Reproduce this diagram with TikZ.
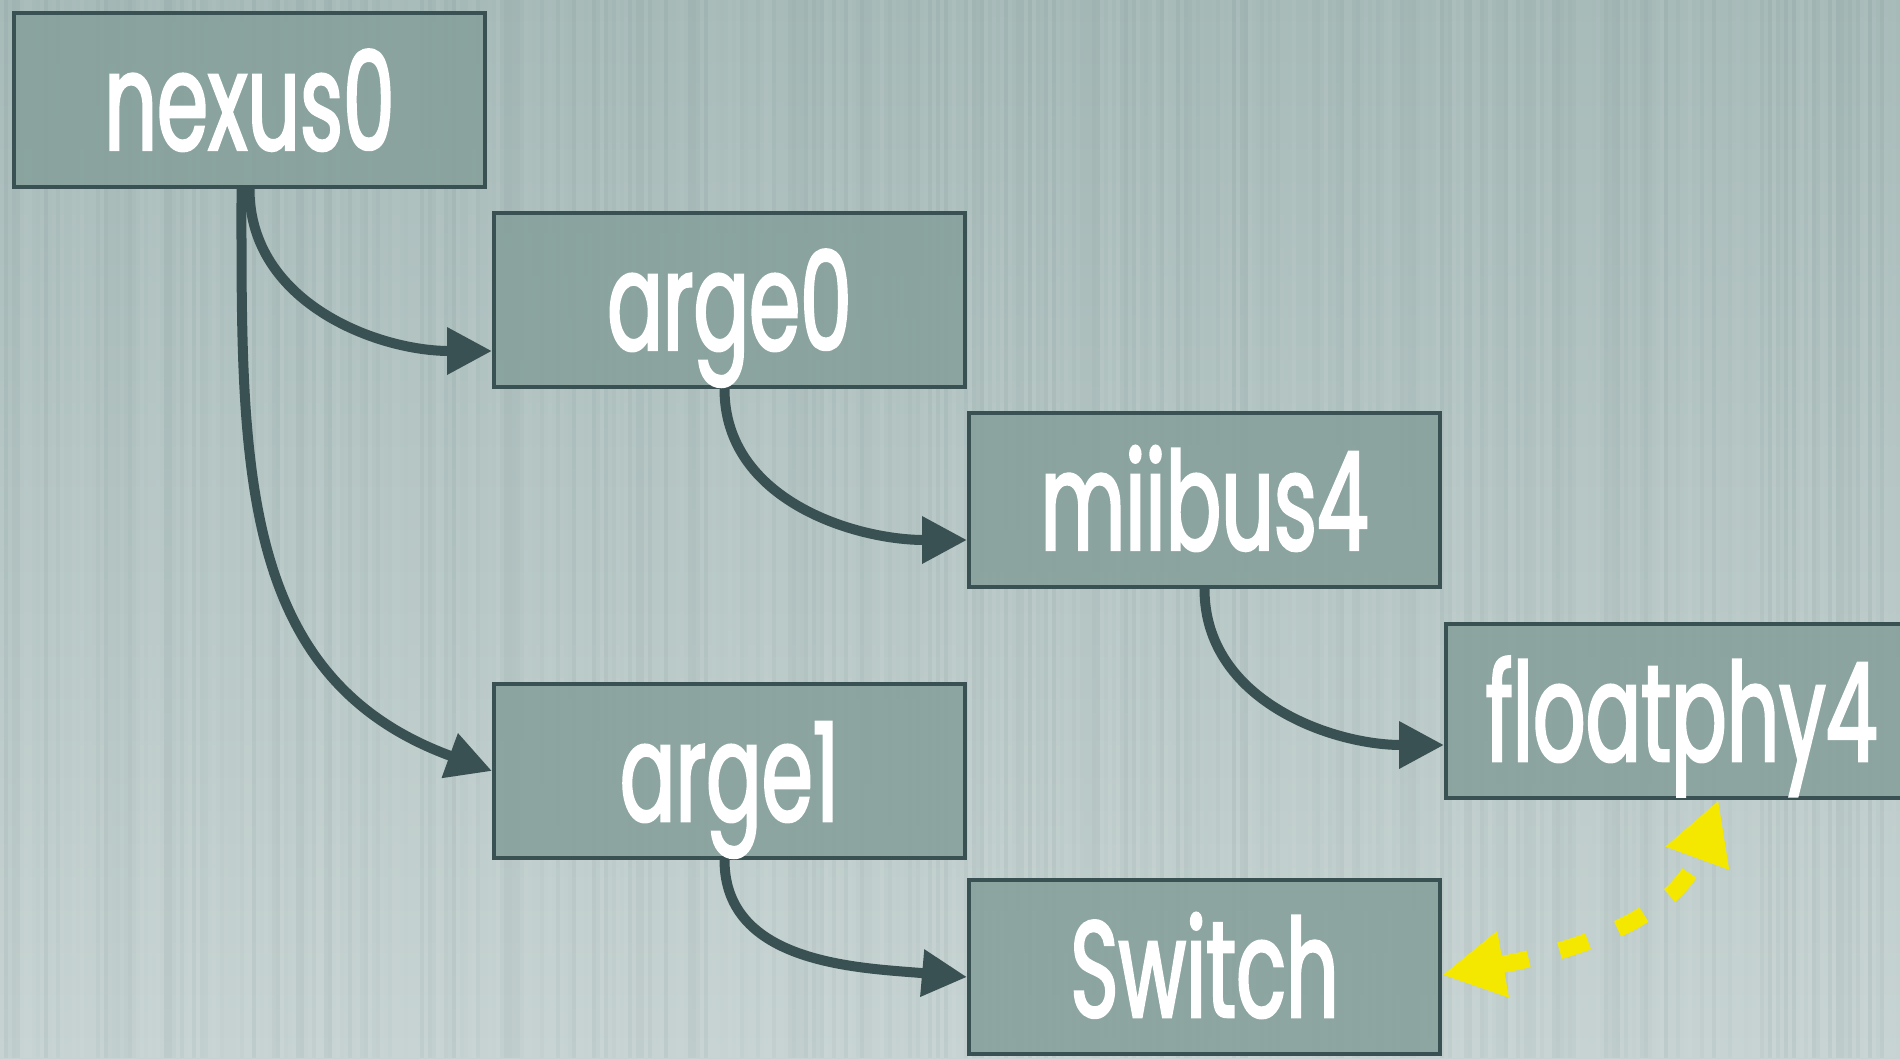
\documentclass[tikz,border=0pt]{standalone}
\usepackage{fontspec}
\newfontfamily\devfont[FakeStretch=0.6,FakeBold=1.8]{Poppins}
\usetikzlibrary{arrows.meta}

\definecolor{bgtop}{HTML}{A6BAB8}
\definecolor{bgbot}{HTML}{C6D3D2}
\definecolor{boxfill}{HTML}{86A09B}
\definecolor{boxline}{HTML}{3A5153}
\definecolor{linkyel}{HTML}{F4E800}

\tikzset{
  dev/.style={draw=boxline, line width=0.04cm, fill=boxfill, fill opacity=0.88,
    text opacity=1, text=white, minimum width=4.71cm, minimum height=1.74cm,
    inner sep=0pt, text height=1.0cm, text depth=0cm,
    font=\devfont\fontsize{39}{39}\selectfont},
  link/.style={draw=boxline, line width=0.1cm, -{Triangle[length=4.5mm,width=4.5mm]}},
  pair/.style={draw=linkyel, line width=0.17cm, dash pattern=on 3mm off 3.2mm,
    {Triangle[length=6.2mm,width=6.3mm]}-{Triangle[length=6.2mm,width=6.3mm]}},
}

\begin{document}
\begin{tikzpicture}
\useasboundingbox (0,0) rectangle (19,10.58);
% backdrop with thin vertical streaks
\shade[top color=bgtop, bottom color=bgbot] (0,0) rectangle (19,10.58);
\pgfmathsetseed{42}
\pgfmathdeclarerandomlist{streak}{{white}{boxline}}
\foreach \i in {0,...,474}{
  \pgfmathrandomitem{\streakcol}{streak}
  \pgfmathsetmacro{\streakop}{0.06*rnd}
  \fill[\streakcol, opacity=\streakop] (\i*0.04,0) rectangle ++(0.04,10.58);
}

% devices
\node[dev] (nexus0) at (2.495,9.58) {nexus0};
\node[dev] (arge0) at (7.295,7.58) {arge0};
\node[dev] (miibus4) at (12.045,5.58) {miibus4};
\node[dev] (floatphy4) at (16.815,3.47) {floatphy4};
\node[dev] (arge1) at (7.295,2.87) {arge1};
\node[dev] (switch) at (12.045,0.91) {Switch};

% attachments
\draw[link] (nexus0.south) to[out=-90,in=180] ([yshift=-5.1mm]arge0.west);
\draw[link] ([xshift=-0.8mm]nexus0.south) to[out=-90,in=160,looseness=1.1] (arge1.west);
\draw[link] ([xshift=-0.5mm]arge0.south) to[out=-90,in=180] ([yshift=-4mm]miibus4.west);
\draw[link] (miibus4.south) to[out=-90,in=180] ([yshift=-3.4mm]floatphy4.west);
\draw[link] ([xshift=-0.5mm]arge1.south) to[out=-90,in=175] ([yshift=-1mm]switch.west);

% phy <-> switch
\draw[pair] ([yshift=-0.8mm]switch.east) to[out=10,in=-110] ([xshift=3.7mm]floatphy4.south);
\end{tikzpicture}
\end{document}
